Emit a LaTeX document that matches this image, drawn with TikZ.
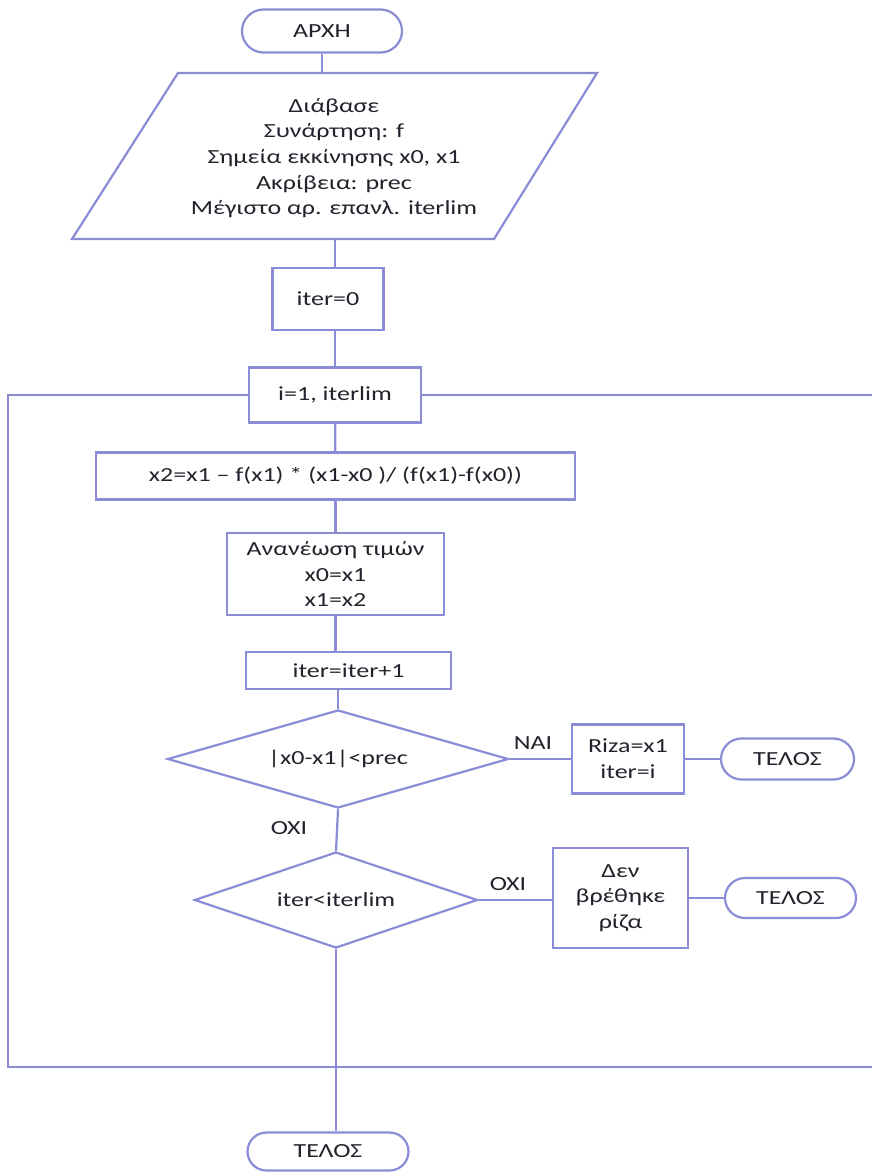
\documentclass[tikz,border=0pt]{standalone}
\usepackage{fontspec}
\setmainfont{Carlito}[FakeStretch=1.3]
\usetikzlibrary{shapes.misc,shapes.geometric}
\definecolor{lin}{RGB}{138,140,214}
\definecolor{txt}{RGB}{35,35,45}
\begin{document}
\begin{tikzpicture}[x=1pt,y=-1pt,
  every node/.style={font=\fontsize{20}{25.7}\selectfont, text=txt},
  con/.style={draw=lin, line width=2.2pt},
  procbox/.style={draw=lin, line width=2.2pt, rectangle, inner sep=0pt, align=center},
  term/.style={draw=lin, line width=2.2pt, rounded rectangle, inner sep=0pt},
  decis/.style={draw=lin, line width=2.2pt, diamond, inner sep=0pt},
  lbl/.style={inner sep=0pt}]
\useasboundingbox (0,0) rectangle (872,1172);
\fill[white] (0,0) rectangle (872,1172);

% start
\node[term, minimum width=160pt, minimum height=43pt] (start) at (322,31) {ΑΡΧΗ};

% input parallelogram
\coordinate (ptl) at (178,73);
\coordinate (ptr) at (597,73);
\coordinate (pbr) at (494,239);
\coordinate (pbl) at (72,239);
\draw[con, line join=miter] (ptl) -- (ptr) -- (pbr) -- (pbl) -- cycle;
\node[align=center, inner sep=0pt] (read) at (334,158) {Διάβασε\\Συνάρτηση: f\\Σημεία εκκίνησης x0, x1\\Ακρίβεια: prec\\Μέγιστο αρ. επανλ. iterlim};
\coordinate (ptop) at (322,73);
\coordinate (pbot) at (335,239);

% boxes
\node[procbox, minimum width=111pt, minimum height=62pt] (iter0) at (328,299) {iter=0};
\node[procbox, minimum width=172pt, minimum height=55pt] (loop) at (335,395) {i=1, iterlim};
\node[procbox, minimum width=479pt, minimum height=47pt] (x2) at (335.5,476) {x2=x1 – f(x1) * (x1-x0 )/ (f(x1)-f(x0))};
\node[procbox, minimum width=217pt, minimum height=82pt] (upd) at (335.5,574) {Ανανέωση τιμών\\x0=x1\\x1=x2};
\node[procbox, minimum width=205pt, minimum height=37pt] (inc) at (348.5,670.5) {iter=iter+1};

% decision 1
\node[decis, minimum width=341pt, minimum height=98pt, aspect=3.48] (d1) at (338,759) {|x0-x1|<prec};
\node[lbl] (yes) at (533,743) {ΝΑΙ};
\node[procbox, minimum width=112pt, minimum height=69pt] (riza) at (628,759) {Riza=x1\\iter=i};
\node[term, minimum width=133pt, minimum height=41pt] (end1) at (787.5,759) {ΤΕΛΟΣ};

% decision 2
\node[lbl] (no1) at (289,828) {ΟΧΙ};
\node[decis, minimum width=283pt, minimum height=96pt, aspect=2.95] (d2) at (336,900) {iter<iterlim};
\node[lbl] (no2) at (508,884) {ΟΧΙ};
\node[procbox, minimum width=135pt, minimum height=100pt] (none) at (620.5,898) {Δεν\\βρέθηκε\\ρίζα};
\node[term, minimum width=131pt, minimum height=40pt] (end2) at (790.5,898) {ΤΕΛΟΣ};

% final end
\node[term, minimum width=161pt, minimum height=38pt] (end3) at (328,1151.5) {ΤΕΛΟΣ};

% loop frame
\coordinate (lt) at (8,395);
\coordinate (rt) at (872,395);
\coordinate (lb) at (8,1067);
\coordinate (rb) at (872,1067);

% connectors
\draw[con] (start) -- (ptop);
\draw[con] (pbot) -- (pbot |- iter0.north);
\draw[con] (iter0.south -| loop) -- (loop.north);
\draw[con] (loop) -- (x2);
\draw[con] (x2) -- (upd);
\draw[con] (upd.south) -- (upd.south |- inc.north);
\draw[con] (inc.south -| d1) -- (d1.north);
\draw[con] (d1.east) -- (riza.west);
\draw[con] (riza) -- (end1);
\draw[con] (d1.south) -- (d2.north);
\draw[con] (d2.east) -- (none.west |- d2.east);
\draw[con] (none.east |- end2.west) -- (end2.west);
\draw[con] (d2.south) -- (d2.south |- end3.north);
\draw[con] (loop.west) -- (lt) -- (lb) -- (rb);
\draw[con] (loop.east) -- (rt);
\end{tikzpicture}
\end{document}
